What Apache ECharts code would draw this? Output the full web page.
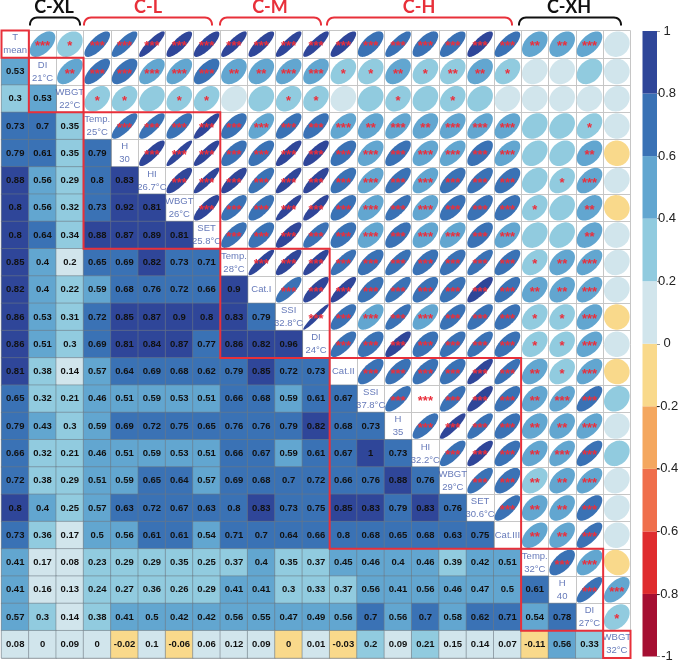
<!DOCTYPE html>
<html><head><meta charset="utf-8">
<style>html,body{margin:0;padding:0;background:#fff}#c{width:685px;height:663px}</style>
<script src="https://cdn.jsdelivr.net/npm/echarts@6/dist/echarts.min.js"></script>
</head><body><div id="c"></div>
<script>
const variables = ['T\nmean','DI\n21°C','WBGT\n22°C','Temp.\n25°C','H\n30','HI\n26.7°C','WBGT\n26°C','SET\n25.8°C','Temp.\n28°C','Cat.I','SSI\n32.8°C','DI\n24°C','Cat.II','SSI\n37.8°C','H\n35','HI\n32.2°C','WBGT\n29°C','SET\n30.6°C','Cat.III','Temp.\n32°C','H\n40','DI\n27°C','WBGT\n32°C'];
// lower triangle of the correlation matrix, row by row (a third decimal only where rounding hides the colour bin)
const correlations = [
 [0.53],
 [0.3,0.53],
 [0.73,0.7,0.35],
 [0.79,0.61,0.35,0.79],
 [0.88,0.56,0.29,0.796,0.83],
 [0.804,0.56,0.32,0.73,0.92,0.81],
 [0.804,0.64,0.34,0.88,0.87,0.89,0.81],
 [0.85,0.404,0.198,0.65,0.69,0.82,0.73,0.71],
 [0.82,0.404,0.22,0.59,0.68,0.76,0.72,0.66,0.9],
 [0.86,0.53,0.31,0.72,0.85,0.87,0.9,0.804,0.83,0.79],
 [0.86,0.51,0.3,0.69,0.81,0.84,0.87,0.77,0.86,0.82,0.96],
 [0.81,0.38,0.14,0.57,0.64,0.69,0.68,0.62,0.79,0.85,0.72,0.73],
 [0.65,0.32,0.21,0.46,0.51,0.59,0.53,0.51,0.66,0.68,0.59,0.61,0.67],
 [0.79,0.43,0.3,0.59,0.69,0.72,0.75,0.65,0.76,0.76,0.79,0.82,0.68,0.73],
 [0.66,0.32,0.21,0.46,0.51,0.59,0.53,0.51,0.66,0.67,0.59,0.61,0.67,1,0.73],
 [0.72,0.38,0.29,0.51,0.59,0.65,0.64,0.57,0.69,0.68,0.7,0.72,0.66,0.76,0.88,0.76],
 [0.804,0.404,0.25,0.57,0.63,0.72,0.67,0.63,0.796,0.83,0.73,0.75,0.85,0.83,0.79,0.83,0.76],
 [0.73,0.36,0.17,0.5,0.56,0.61,0.61,0.54,0.71,0.7,0.64,0.66,0.796,0.68,0.65,0.68,0.63,0.75],
 [0.41,0.17,0.08,0.23,0.29,0.29,0.35,0.25,0.37,0.404,0.35,0.37,0.45,0.46,0.404,0.46,0.39,0.42,0.51],
 [0.41,0.16,0.13,0.24,0.27,0.36,0.26,0.29,0.41,0.41,0.3,0.33,0.37,0.56,0.41,0.56,0.46,0.47,0.5,0.61],
 [0.57,0.3,0.14,0.38,0.41,0.5,0.42,0.42,0.56,0.55,0.47,0.49,0.56,0.7,0.56,0.7,0.58,0.62,0.71,0.54,0.78],
 [0.08,0,0.09,0,-0.02,0.1,-0.06,0.06,0.12,0.09,-0.004,0.01,-0.03,0.204,0.09,0.21,0.15,0.14,0.07,-0.11,0.56,0.33]
];
// number of significance stars for the upper triangle: one string per row, starting right of the diagonal
const significance = [
 '3133333333333333332230',
 '233333223311212210000',
 '11011001100101000000',
 '3333333332323330010',
 '333333333333330020',
 '33333333333330130',
 '3333333333331020',
 '333333333330020',
 '33333333331230',
 '3333333332230',
 '333333331130',
 '33333331130',
 '3333332130',
 '333332330',
 '33332230',
 '3332330',
 '332230',
 '32230',
 '2230',
 '330',
 '33',
 '1'
];
const groups = [[0,0],[1,2],[3,7],[8,11],[12,18],[19,21],[22,22]];
const legendBins = [[-1,-0.8],[-0.8,-0.6],[-0.6,-0.4],[-0.4,-0.2],[-0.2,0],[0,0.2],[0.2,0.4],[0.4,0.6],[0.6,0.8],[0.8,1.001]];
const binColors = ['#A50F32','#DF2C2E','#EF6F4C','#F4A75F','#F9D98B','#D1E5EC','#91CBDF','#62A6D0','#3A72B5','#2F4699'];
const bracketNames = ['C-XL','C-L','C-M','C-H','C-XH'];

const lowerCells=[], upperCells=[], diagCells=[];
variables.forEach((v,i)=>diagCells.push([i,i,v]));
correlations.forEach((row,r)=>row.forEach((val,c)=>{
  lowerCells.push([c,r+1,val]);
  const s = Number(significance[c][r-c]||0);
  upperCells.push([r+1,c,val,s]);
}));
const fmt = v=>{const t=Math.round(v*100)/100; return String(t===0?0:t);};

function ellipseRender(params,api){
  const x=api.value(0), y=api.value(1), r=api.value(2), stars=api.value(3);
  const c=api.coord([x,y]); const sz=api.size([1,1]);
  const ax=sz[0]*0.468, ay=sz[1]*0.468, d=Math.acos(Math.max(-1,Math.min(1,r)));
  const pts=[];
  for(let k=0;k<72;k++){const t=k/72*2*Math.PI; pts.push([c[0]+ax*Math.cos(t+d/2), c[1]-ay*Math.cos(t-d/2)]);}
  const children=[{type:'polygon',shape:{points:pts},style:{fill:api.visual('color')}}];
  if(stars>0) children.push({type:'text',style:{text:'*'.repeat(stars),x:c[0],y:c[1]+2.5,align:'center',verticalAlign:'middle',fill:'#EA2F3C',font:'bold 13px "Liberation Sans"'}});
  return {type:'group',children};
}
function boxRender(params,api){
  const a=api.value(0), b=api.value(1);
  const p0=api.coord([a,a]), p1=api.coord([b,b]), s=api.size([1,1]);
  return {type:'rect',shape:{x:p0[0]-s[0]/2,y:p0[1]-s[1]/2,width:p1[0]-p0[0]+s[0],height:p1[1]-p0[1]+s[1]},
    style:{fill:null,stroke:'#E8303A',lineWidth:2}};
}
function legendRender(params,api){
  const a=api.coord([0,api.value(0)]), b=api.coord([0,Math.min(1,api.value(1))]), s=api.size([1,0]);
  return {type:'rect',shape:{x:a[0]-s[0]/2,y:b[1],width:s[0],height:a[1]-b[1]},style:{fill:binColors[params.dataIndex]}};
}
const bracketSpans=[[30,80],[84,212],[220,321],[327,512],[519,621]];
const bracketColors=['#111','#E8303A','#E8303A','#E8303A','#111'];
const titleCenters=[54,148,270,419,569];
const graphics=[];
bracketNames.forEach((n,i)=>{
  const [a,b]=bracketSpans[i], R=7, top=17.5, bot=25.5, pts=[[a,bot]];
  for(let k=0;k<=8;k++){const t=k/8*Math.PI/2; pts.push([a+R-R*Math.cos(t),top+R-R*Math.sin(t)]);}
  for(let k=8;k>=0;k--){const t=k/8*Math.PI/2; pts.push([b-R+R*Math.cos(t),top+R-R*Math.sin(t)]);}
  pts.push([b,bot]);
  graphics.push({type:'polyline',shape:{points:pts},style:{fill:null,stroke:bracketColors[i],lineWidth:2}});
  graphics.push({type:'text',x:titleCenters[i],y:7,style:{text:n,align:'center',verticalAlign:'middle',fill:bracketColors[i],font:'bold 18px Lato'}});
});

const chart=echarts.init(document.getElementById('c'),null,{renderer:'canvas'});
const catAxis=(extra)=>Object.assign({type:'category',data:variables.map((_,i)=>i),axisLine:{show:false},axisTick:{show:false},axisLabel:{show:false},
  splitLine:{show:true,interval:0,lineStyle:{color:'#c6c6c6',width:1}},z:0},extra);
chart.setOption({
  animation:false,
  backgroundColor:'#fff',
  graphic:graphics,
  grid:[{left:1.5,top:30.5,width:629,height:627.5},{left:642.5,top:31,width:14.5,height:627}],
  xAxis:[catAxis({gridIndex:0}),{type:'category',gridIndex:1,data:[0],show:false}],
  yAxis:[catAxis({gridIndex:0,inverse:true}),
    {type:'value',gridIndex:1,position:'right',min:-1,max:1,interval:0.2,splitLine:{show:false},axisLine:{show:false},
     axisTick:{show:true,length:3,lineStyle:{color:'#999'}},
     axisLabel:{color:'#222',fontSize:13,fontFamily:'Liberation Sans',margin:10,align:'center',
       formatter:v=>fmt(v)}}],
  visualMap:{show:false,seriesIndex:[0,1],dimension:2,type:'piecewise',
    pieces:legendBins.map((b,i)=>({gte:b[0],lt:b[1],color:binColors[i]}))},
  series:[
   {type:'heatmap',xAxisIndex:0,yAxisIndex:0,data:lowerCells,
    itemStyle:{borderColor:'rgba(110,120,130,0.55)',borderWidth:1},
    label:{show:true,color:'#111',fontFamily:'Liberation Sans',fontWeight:'bold',fontSize:9.5,formatter:p=>fmt(p.value[2])},
    emphasis:{disabled:true}},
   {type:'custom',xAxisIndex:0,yAxisIndex:0,data:upperCells,renderItem:ellipseRender,encode:{x:0,y:1},silent:true},
   {type:'scatter',xAxisIndex:0,yAxisIndex:0,data:diagCells,symbolSize:0,silent:true,
    label:{show:true,position:'inside',color:'#3F57A8',fontFamily:'Liberation Sans',fontSize:9.5,lineHeight:13,formatter:p=>p.value[2]}},
   {type:'custom',xAxisIndex:0,yAxisIndex:0,data:groups,renderItem:boxRender,z:10,silent:true,encode:{x:0,y:1},clip:false},
   {type:'custom',xAxisIndex:1,yAxisIndex:1,data:legendBins,renderItem:legendRender,silent:true,encode:{y:[0,1]}}
  ]
});
</script></body></html>
